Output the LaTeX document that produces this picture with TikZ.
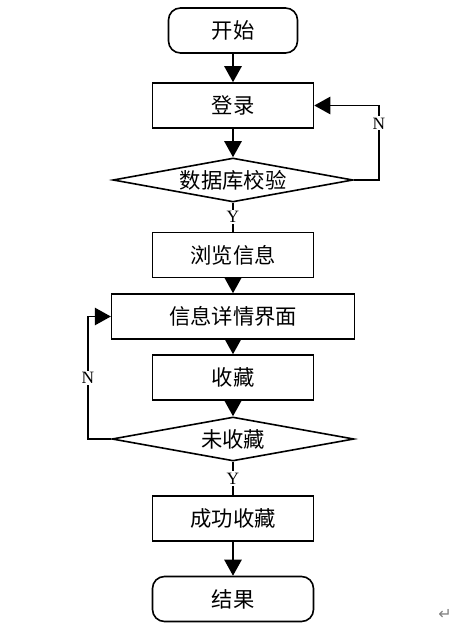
\documentclass[tikz,border=0pt]{standalone}
\usepackage{fontspec}
\setmainfont{Liberation Serif}
\newfontfamily\cjk{Noto Sans CJK SC}
\newfontfamily\symfont{DejaVu Sans}
\usetikzlibrary{shapes.geometric}
\usetikzlibrary{arrows.meta}

\begin{document}
\begin{tikzpicture}[x=0.75pt, y=-0.75pt, line width=1.2pt,
  every node/.style={font=\cjk\fontsize{16}{19}\selectfont},
  stepbox/.style={draw, rectangle, minimum width=120.75pt, minimum height=33.75pt, inner sep=0pt},
  widebox/.style={stepbox, minimum width=182pt},
  endbox/.style={stepbox, rounded corners=9pt},
  check/.style={draw, diamond, shape aspect=5.5, minimum width=180pt, minimum height=33pt, inner sep=0pt},
  yn/.style={font=\fontsize{13}{15}\selectfont, fill=white, inner sep=1pt},
  flow/.style={-{Triangle[width=13pt,length=12pt]}}]

        \useasboundingbox (0,0) rectangle (467,627);

        \def\cx{233} % x of the main column

        \node[endbox, minimum width=96.75pt] (start) at (\cx,30.5) {开始};
        \node[stepbox] (login) at (\cx,105.5) {登录};
        \node[check] (dbcheck) at (\cx,180) {数据库校验};
        \node[stepbox] (browse) at (\cx,255) {浏览信息};
        \node[widebox] (detail) at (\cx,316.5) {信息详情界面};
        \node[stepbox] (fav) at (\cx,377.5) {收藏};
        \node[check, minimum width=181.5pt] (notfav) at (\cx,439) {未收藏};
        \node[stepbox] (done) at (\cx,518.5) {成功收藏};
        \node[endbox] (result) at (\cx,599) {结果};

        \coordinate (rloop) at (379,180);
        \coordinate (lloop) at (88,439);

        \draw[flow] (start) -- (login);
        \draw[flow] (login) -- (dbcheck);
        \draw (dbcheck) -- node[yn]{Y} (browse);
        \draw[flow] (browse) -- (detail);
        \draw[flow] (detail) -- (fav);
        \draw[flow] (fav) -- (notfav);
        \draw (notfav) -- node[yn]{Y} (done);
        \draw[flow] (done) -- (result);

        % loops back on N
        \draw[flow] (dbcheck.east) -- (rloop) |- node[yn, pos=0.38]{N} (login.east);
        \draw[flow] (notfav.west) -- (lloop) |- node[yn, pos=0.25]{N} (detail.west);

        \node[font=\symfont\fontsize{12}{14}\selectfont, text=gray] (pmark) at (445,614) {↵};

\end{tikzpicture}
\end{document}
